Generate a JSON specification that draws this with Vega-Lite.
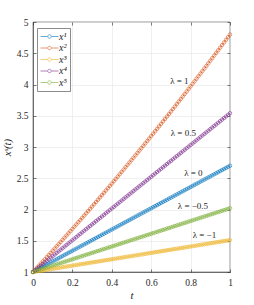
{
"$schema": "https://vega.github.io/schema/vega-lite/v6.json",
"width": 197, "height": 250, "autosize": "none",
"padding": {"left": 33, "top": 22, "right": 24, "bottom": 33},
"background": "white",
"config": {
 "font": "Liberation Serif, serif",
 "view": {"stroke": "#262626", "strokeWidth": 0.6},
 "axis": {"labelFont": "Liberation Serif, serif", "labelFontSize": 9.5, "labelColor": "#262626", "domainColor": "#262626", "domainWidth": 0.6, "tickColor": "#262626", "tickSize": -3, "tickWidth": 0.6, "gridColor": "#e6e6e6", "gridWidth": 0.6, "titleFont": "Liberation Serif, serif", "titleFontStyle": "italic", "titleFontWeight": "normal", "titleFontSize": 11, "titleColor": "#262626", "labelPadding": 8, "labelOverlap": false, "labelFlush": false},
 "legend": {"labelFont": "Liberation Serif, serif", "labelFontStyle": "italic", "labelFontSize": 10, "labelColor": "#262626", "strokeColor": "#8c8c8c", "fillColor": "white", "padding": 3, "rowPadding": 0.5, "labelOffset": 4, "symbolOffset": 4, "labelLimit": 30}
},
"resolve": {"scale": {"x": "independent", "y": "independent"}},
"layer": [
 {
  "data": {"values": [
{"t":0,"a":1,"b":1,"c":1,"d":1,"e":1},
{"t":0.01,"a":1.017,"b":1.0336,"c":1.0051,"d":1.0254,"e":1.0102},
{"t":0.02,"a":1.034,"b":1.0674,"c":1.0102,"d":1.0508,"e":1.0204},
{"t":0.03,"a":1.051,"b":1.1012,"c":1.0153,"d":1.0762,"e":1.0306},
{"t":0.04,"a":1.068,"b":1.1351,"c":1.0204,"d":1.1016,"e":1.0408},
{"t":0.05,"a":1.085,"b":1.1691,"c":1.0255,"d":1.127,"e":1.051},
{"t":0.06,"a":1.102,"b":1.2032,"c":1.0306,"d":1.1524,"e":1.0612},
{"t":0.07,"a":1.119,"b":1.2374,"c":1.0357,"d":1.1778,"e":1.0714},
{"t":0.08,"a":1.136,"b":1.2716,"c":1.0408,"d":1.2032,"e":1.0816},
{"t":0.09,"a":1.153,"b":1.306,"c":1.0459,"d":1.2286,"e":1.0918},
{"t":0.1,"a":1.17,"b":1.3404,"c":1.051,"d":1.254,"e":1.102},
{"t":0.11,"a":1.187,"b":1.3749,"c":1.0561,"d":1.2794,"e":1.1122},
{"t":0.12,"a":1.204,"b":1.4095,"c":1.0612,"d":1.3048,"e":1.1224},
{"t":0.13,"a":1.221,"b":1.4442,"c":1.0663,"d":1.3302,"e":1.1326},
{"t":0.14,"a":1.238,"b":1.479,"c":1.0714,"d":1.3556,"e":1.1428},
{"t":0.15,"a":1.255,"b":1.5139,"c":1.0765,"d":1.381,"e":1.153},
{"t":0.16,"a":1.272,"b":1.5489,"c":1.0816,"d":1.4064,"e":1.1632},
{"t":0.17,"a":1.289,"b":1.5839,"c":1.0867,"d":1.4318,"e":1.1734},
{"t":0.18,"a":1.306,"b":1.6191,"c":1.0918,"d":1.4572,"e":1.1836},
{"t":0.19,"a":1.323,"b":1.6543,"c":1.0969,"d":1.4826,"e":1.1938},
{"t":0.2,"a":1.34,"b":1.6896,"c":1.102,"d":1.508,"e":1.204},
{"t":0.21,"a":1.357,"b":1.725,"c":1.1071,"d":1.5334,"e":1.2142},
{"t":0.22,"a":1.374,"b":1.7605,"c":1.1122,"d":1.5588,"e":1.2244},
{"t":0.23,"a":1.391,"b":1.7961,"c":1.1173,"d":1.5842,"e":1.2346},
{"t":0.24,"a":1.408,"b":1.8317,"c":1.1224,"d":1.6096,"e":1.2448},
{"t":0.25,"a":1.425,"b":1.8675,"c":1.1275,"d":1.635,"e":1.255},
{"t":0.26,"a":1.442,"b":1.9033,"c":1.1326,"d":1.6604,"e":1.2652},
{"t":0.27,"a":1.459,"b":1.9393,"c":1.1377,"d":1.6858,"e":1.2754},
{"t":0.28,"a":1.476,"b":1.9753,"c":1.1428,"d":1.7112,"e":1.2856},
{"t":0.29,"a":1.493,"b":2.0114,"c":1.1479,"d":1.7366,"e":1.2958},
{"t":0.3,"a":1.51,"b":2.0476,"c":1.153,"d":1.762,"e":1.306},
{"t":0.31,"a":1.527,"b":2.0839,"c":1.1581,"d":1.7874,"e":1.3162},
{"t":0.32,"a":1.544,"b":2.1203,"c":1.1632,"d":1.8128,"e":1.3264},
{"t":0.33,"a":1.561,"b":2.1567,"c":1.1683,"d":1.8382,"e":1.3366},
{"t":0.34,"a":1.578,"b":2.1933,"c":1.1734,"d":1.8636,"e":1.3468},
{"t":0.35,"a":1.595,"b":2.2299,"c":1.1785,"d":1.889,"e":1.357},
{"t":0.36,"a":1.612,"b":2.2666,"c":1.1836,"d":1.9144,"e":1.3672},
{"t":0.37,"a":1.629,"b":2.3034,"c":1.1887,"d":1.9398,"e":1.3774},
{"t":0.38,"a":1.646,"b":2.3403,"c":1.1938,"d":1.9652,"e":1.3876},
{"t":0.39,"a":1.663,"b":2.3773,"c":1.1989,"d":1.9906,"e":1.3978},
{"t":0.4,"a":1.68,"b":2.4144,"c":1.204,"d":2.016,"e":1.408},
{"t":0.41,"a":1.697,"b":2.4516,"c":1.2091,"d":2.0414,"e":1.4182},
{"t":0.42,"a":1.714,"b":2.4888,"c":1.2142,"d":2.0668,"e":1.4284},
{"t":0.43,"a":1.731,"b":2.5262,"c":1.2193,"d":2.0922,"e":1.4386},
{"t":0.44,"a":1.748,"b":2.5636,"c":1.2244,"d":2.1176,"e":1.4488},
{"t":0.45,"a":1.765,"b":2.6011,"c":1.2295,"d":2.143,"e":1.459},
{"t":0.46,"a":1.782,"b":2.6387,"c":1.2346,"d":2.1684,"e":1.4692},
{"t":0.47,"a":1.799,"b":2.6764,"c":1.2397,"d":2.1938,"e":1.4794},
{"t":0.48,"a":1.816,"b":2.7142,"c":1.2448,"d":2.2192,"e":1.4896},
{"t":0.49,"a":1.833,"b":2.752,"c":1.2499,"d":2.2446,"e":1.4998},
{"t":0.5,"a":1.85,"b":2.79,"c":1.255,"d":2.27,"e":1.51},
{"t":0.51,"a":1.867,"b":2.828,"c":1.2601,"d":2.2954,"e":1.5202},
{"t":0.52,"a":1.884,"b":2.8662,"c":1.2652,"d":2.3208,"e":1.5304},
{"t":0.53,"a":1.901,"b":2.9044,"c":1.2703,"d":2.3462,"e":1.5406},
{"t":0.54,"a":1.918,"b":2.9427,"c":1.2754,"d":2.3716,"e":1.5508},
{"t":0.55,"a":1.935,"b":2.9811,"c":1.2805,"d":2.397,"e":1.561},
{"t":0.56,"a":1.952,"b":3.0196,"c":1.2856,"d":2.4224,"e":1.5712},
{"t":0.57,"a":1.969,"b":3.0582,"c":1.2907,"d":2.4478,"e":1.5814},
{"t":0.58,"a":1.986,"b":3.0968,"c":1.2958,"d":2.4732,"e":1.5916},
{"t":0.59,"a":2.003,"b":3.1356,"c":1.3009,"d":2.4986,"e":1.6018},
{"t":0.6,"a":2.02,"b":3.1744,"c":1.306,"d":2.524,"e":1.612},
{"t":0.61,"a":2.037,"b":3.2133,"c":1.3111,"d":2.5494,"e":1.6222},
{"t":0.62,"a":2.054,"b":3.2523,"c":1.3162,"d":2.5748,"e":1.6324},
{"t":0.63,"a":2.071,"b":3.2914,"c":1.3213,"d":2.6002,"e":1.6426},
{"t":0.64,"a":2.088,"b":3.3306,"c":1.3264,"d":2.6256,"e":1.6528},
{"t":0.65,"a":2.105,"b":3.3699,"c":1.3315,"d":2.651,"e":1.663},
{"t":0.66,"a":2.122,"b":3.4093,"c":1.3366,"d":2.6764,"e":1.6732},
{"t":0.67,"a":2.139,"b":3.4487,"c":1.3417,"d":2.7018,"e":1.6834},
{"t":0.68,"a":2.156,"b":3.4883,"c":1.3468,"d":2.7272,"e":1.6936},
{"t":0.69,"a":2.173,"b":3.5279,"c":1.3519,"d":2.7526,"e":1.7038},
{"t":0.7,"a":2.19,"b":3.5676,"c":1.357,"d":2.778,"e":1.714},
{"t":0.71,"a":2.207,"b":3.6074,"c":1.3621,"d":2.8034,"e":1.7242},
{"t":0.72,"a":2.224,"b":3.6473,"c":1.3672,"d":2.8288,"e":1.7344},
{"t":0.73,"a":2.241,"b":3.6873,"c":1.3723,"d":2.8542,"e":1.7446},
{"t":0.74,"a":2.258,"b":3.7273,"c":1.3774,"d":2.8796,"e":1.7548},
{"t":0.75,"a":2.275,"b":3.7675,"c":1.3825,"d":2.905,"e":1.765},
{"t":0.76,"a":2.292,"b":3.8077,"c":1.3876,"d":2.9304,"e":1.7752},
{"t":0.77,"a":2.309,"b":3.8481,"c":1.3927,"d":2.9558,"e":1.7854},
{"t":0.78,"a":2.326,"b":3.8885,"c":1.3978,"d":2.9812,"e":1.7956},
{"t":0.79,"a":2.343,"b":3.929,"c":1.4029,"d":3.0066,"e":1.8058},
{"t":0.8,"a":2.36,"b":3.9696,"c":1.408,"d":3.032,"e":1.816},
{"t":0.81,"a":2.377,"b":4.0103,"c":1.4131,"d":3.0574,"e":1.8262},
{"t":0.82,"a":2.394,"b":4.0511,"c":1.4182,"d":3.0828,"e":1.8364},
{"t":0.83,"a":2.411,"b":4.0919,"c":1.4233,"d":3.1082,"e":1.8466},
{"t":0.84,"a":2.428,"b":4.1329,"c":1.4284,"d":3.1336,"e":1.8568},
{"t":0.85,"a":2.445,"b":4.1739,"c":1.4335,"d":3.159,"e":1.867},
{"t":0.86,"a":2.462,"b":4.215,"c":1.4386,"d":3.1844,"e":1.8772},
{"t":0.87,"a":2.479,"b":4.2562,"c":1.4437,"d":3.2098,"e":1.8874},
{"t":0.88,"a":2.496,"b":4.2975,"c":1.4488,"d":3.2352,"e":1.8976},
{"t":0.89,"a":2.513,"b":4.3389,"c":1.4539,"d":3.2606,"e":1.9078},
{"t":0.9,"a":2.53,"b":4.3804,"c":1.459,"d":3.286,"e":1.918},
{"t":0.91,"a":2.547,"b":4.422,"c":1.4641,"d":3.3114,"e":1.9282},
{"t":0.92,"a":2.564,"b":4.4636,"c":1.4692,"d":3.3368,"e":1.9384},
{"t":0.93,"a":2.581,"b":4.5054,"c":1.4743,"d":3.3622,"e":1.9486},
{"t":0.94,"a":2.598,"b":4.5472,"c":1.4794,"d":3.3876,"e":1.9588},
{"t":0.95,"a":2.615,"b":4.5891,"c":1.4845,"d":3.413,"e":1.969},
{"t":0.96,"a":2.632,"b":4.6311,"c":1.4896,"d":3.4384,"e":1.9792},
{"t":0.97,"a":2.649,"b":4.6732,"c":1.4947,"d":3.4638,"e":1.9894},
{"t":0.98,"a":2.666,"b":4.7154,"c":1.4998,"d":3.4892,"e":1.9996},
{"t":0.99,"a":2.683,"b":4.7576,"c":1.5049,"d":3.5146,"e":2.0098},
{"t":1,"a":2.7,"b":4.8,"c":1.51,"d":3.54,"e":2.02}
  ]},
  "transform": [{"fold": ["a","b","c","d","e"], "as": ["s","v"]}],
  "encoding": {
   "x": {"field": "t", "type": "quantitative", "scale": {"domain": [0,1], "nice": false, "zero": false}, "axis": {"values": [0,0.2,0.4,0.6,0.8,1], "labelExpr": "'' + datum.value", "title": "t", "titlePadding": 3}},
   "y": {"field": "v", "type": "quantitative", "scale": {"domain": [1,5], "nice": false, "zero": false}, "axis": {"values": [1,1.5,2,2.5,3,3.5,4,4.5,5], "labelExpr": "'' + datum.value", "title": "xˢ(t)", "titlePadding": 4}},
   "color": {"field": "s", "type": "nominal", "scale": {"domain": ["a","b","c","d","e"], "range": ["#0072BD","#D95319","#EDB120","#7E2F8E","#77AC30"]},
     "legend": {"orient": "none", "legendX": 4, "legendY": 6, "title": null, "symbolType": "M-1.8,0L-0.35,0M0.35,0L1.8,0M-0.35,0A0.35,0.35,0,1,1,0.35,0A0.35,0.35,0,1,1,-0.35,0", "symbolSize": 100, "symbolStrokeWidth": 1, "symbolFillColor": "transparent", "symbolOpacity": 0.6, "labelExpr": "{'a':'x¹','b':'x²','c':'x³','d':'x⁴','e':'x⁵'}[datum.label]"}}
  },
  "layer": [
   {"mark": {"type": "line", "strokeWidth": 1, "opacity": 0.6}},
   {"mark": {"type": "point", "shape": "circle", "filled": false, "size": 12, "strokeWidth": 0.8, "opacity": 0.75}}
  ]
 },
 {
  "data": {"values": [
   {"t": 0.743, "v": 4.06, "lab": "λ = 1"},
   {"t": 0.763, "v": 3.23, "lab": "λ = 0.5"},
   {"t": 0.814, "v": 2.58, "lab": "λ = 0"},
   {"t": 0.812, "v": 2.06, "lab": "λ = −0.5"},
   {"t": 0.87, "v": 1.6, "lab": "λ = −1"}
  ]},
  "mark": {"type": "text", "font": "Liberation Serif, serif", "fontSize": 9, "color": "#262626", "align": "center", "baseline": "middle"},
  "encoding": {
   "x": {"field": "t", "type": "quantitative", "scale": {"domain": [0,1], "nice": false, "zero": false}, "axis": {"orient": "top", "values": [0,0.2,0.4,0.6,0.8,1], "labels": false, "grid": false, "domain": false, "title": null}},
   "y": {"field": "v", "type": "quantitative", "scale": {"domain": [1,5], "nice": false, "zero": false}, "axis": {"orient": "right", "values": [1,1.5,2,2.5,3,3.5,4,4.5,5], "labels": false, "grid": false, "domain": false, "title": null}},
   "text": {"field": "lab"}
  }
 }
]
}
